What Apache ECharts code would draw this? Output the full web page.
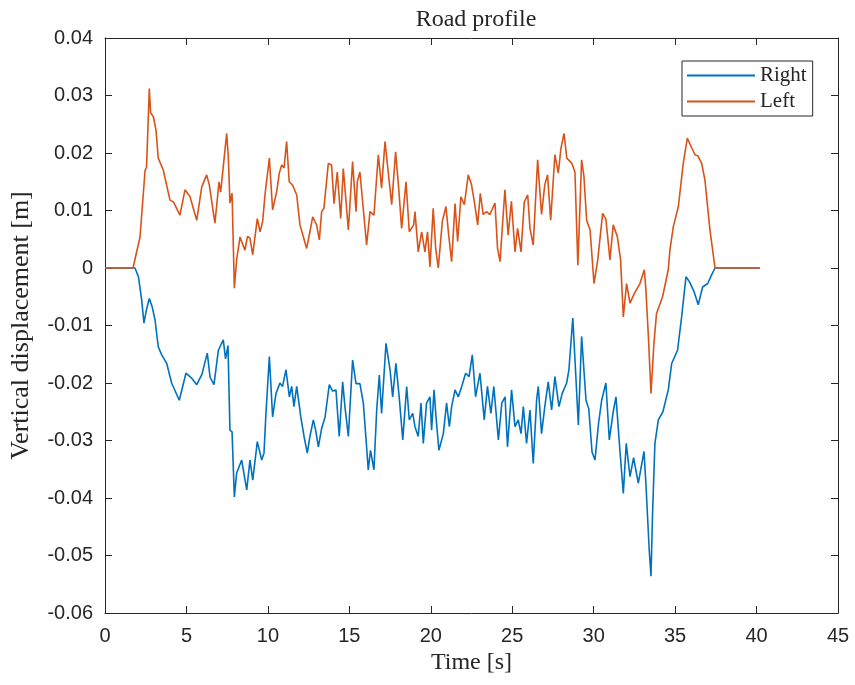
<!DOCTYPE html>
<html>
<head>
    <meta charset="utf-8">
    <title>Road profile</title>
    <script src="https://cdn.jsdelivr.net/npm/echarts@6/dist/echarts.min.js"></script>
    <style>
        html, body { margin: 0; padding: 0; background: #fff; }
    </style>
</head>
<body>
    <div id="main" style="width: 855px;height:685px;"></div>
    <script type="text/javascript">
        // [time (s), vertical displacement (m)]
        var rightPoints = [
            [0, 0], [1.84, 0], [2.05, -0.0015], [2.25, -0.0055], [2.39, -0.0096], [2.55, -0.0072], [2.72, -0.0053], [2.9, -0.0068],
            [3.07, -0.009], [3.27, -0.0137], [3.48, -0.0151], [3.79, -0.0166], [4.09, -0.02], [4.56, -0.023], [4.97, -0.0183],
            [5.3, -0.0191], [5.63, -0.0203], [5.95, -0.0185], [6.28, -0.0148], [6.45, -0.019], [6.69, -0.0203], [6.96, -0.0143],
            [7.26, -0.0125], [7.4, -0.0158], [7.55, -0.0135], [7.67, -0.0282], [7.8, -0.0285], [7.94, -0.0398], [8.08, -0.0357],
            [8.39, -0.0334], [8.7, -0.0386], [8.9, -0.0334], [9.07, -0.0369], [9.35, -0.0302], [9.62, -0.0334], [9.76, -0.0322],
            [9.88, -0.0253], [10.09, -0.0154], [10.29, -0.0259], [10.5, -0.0218], [10.74, -0.02], [10.9, -0.0206], [11.11, -0.0177],
            [11.32, -0.0224], [11.46, -0.0206], [11.6, -0.0241], [11.77, -0.0206], [12.02, -0.0259], [12.22, -0.0293], [12.42, -0.0322],
            [12.58, -0.0293], [12.79, -0.0264], [12.93, -0.0282], [13.1, -0.0311], [13.3, -0.0279], [13.51, -0.0259], [13.77, -0.0203],
            [13.97, -0.0214], [14.18, -0.0212], [14.38, -0.0293], [14.59, -0.0198], [14.73, -0.0241], [14.94, -0.0293], [15.2, -0.016],
            [15.41, -0.0201], [15.65, -0.0201], [15.86, -0.0235], [16.06, -0.0311], [16.16, -0.0351], [16.3, -0.0317], [16.51, -0.0351],
            [16.68, -0.0247], [16.84, -0.0186], [16.98, -0.0253], [17.25, -0.0131], [17.5, -0.0177], [17.66, -0.0224], [17.86, -0.0166],
            [18.06, -0.0224], [18.28, -0.0299], [18.52, -0.0206], [18.68, -0.0264], [18.89, -0.0253], [19.03, -0.0276], [19.23, -0.0293],
            [19.4, -0.0235], [19.54, -0.0305], [19.74, -0.0235], [19.95, -0.0224], [20.05, -0.0282], [20.2, -0.0212], [20.32, -0.0259],
            [20.5, -0.0317], [20.77, -0.0288], [20.97, -0.0235], [21.14, -0.0276], [21.28, -0.0241], [21.49, -0.0212], [21.69, -0.0224],
            [21.9, -0.0206], [22.14, -0.0183], [22.35, -0.0189], [22.55, -0.0151], [22.75, -0.0224], [23.02, -0.0183], [23.28, -0.0264],
            [23.48, -0.0206], [23.69, -0.0253], [23.87, -0.0206], [24.15, -0.0299], [24.36, -0.0235], [24.56, -0.0224], [24.71, -0.0311],
            [24.96, -0.0212], [25.17, -0.0276], [25.37, -0.0264], [25.54, -0.0288], [25.68, -0.0241], [25.88, -0.0305], [26.09, -0.0247],
            [26.29, -0.034], [26.5, -0.0229], [26.6, -0.0206], [26.8, -0.0288], [27.0, -0.0241], [27.21, -0.0198], [27.42, -0.0247],
            [27.62, -0.0189], [27.87, -0.0241], [28.07, -0.0218], [28.34, -0.02], [28.48, -0.0177], [28.72, -0.0087], [29.06, -0.0273],
            [29.26, -0.0119], [29.53, -0.023], [29.7, -0.0245], [29.9, -0.032], [30.08, -0.0334], [30.3, -0.027], [30.49, -0.023],
            [30.75, -0.02], [30.96, -0.0299], [31.2, -0.025], [31.37, -0.0224], [31.61, -0.0317], [31.82, -0.0392], [32.0, -0.0305],
            [32.23, -0.0363], [32.45, -0.033], [32.74, -0.0374], [33.09, -0.0319], [33.2, -0.0371], [33.41, -0.049], [33.52, -0.0536],
            [33.61, -0.0432], [33.76, -0.0305], [33.97, -0.0264], [34.25, -0.025], [34.58, -0.0212], [34.79, -0.0166], [35.15, -0.0143],
            [35.4, -0.0085], [35.67, -0.0015], [35.9, -0.0025], [36.16, -0.0041], [36.42, -0.0064], [36.69, -0.0033], [37.0, -0.0027],
            [37.24, -0.0012], [37.45, 0], [40.2, 0]
        ];

        var leftPoints = [
            [0, 0], [1.72, 0], [2.15, 0.0054], [2.46, 0.017], [2.55, 0.0175], [2.72, 0.0312], [2.8, 0.027], [2.97, 0.0263],
            [3.13, 0.024], [3.27, 0.0191], [3.58, 0.017], [3.99, 0.0118], [4.2, 0.0115], [4.6, 0.0092], [4.91, 0.0136], [5.22, 0.0124],
            [5.63, 0.0083], [5.94, 0.0141], [6.24, 0.0162], [6.4, 0.0145], [6.75, 0.0078], [7.0, 0.015], [7.1, 0.0132], [7.47, 0.0234],
            [7.57, 0.0194], [7.67, 0.0113], [7.8, 0.013], [7.94, -0.0035], [8.08, 0.0014], [8.29, 0.0054], [8.59, 0.0031], [8.75, 0.0055],
            [8.9, 0.0052], [9.07, 0.0023], [9.35, 0.0086], [9.52, 0.0063], [9.68, 0.0081], [9.82, 0.0127], [10.09, 0.0191], [10.29, 0.0101],
            [10.54, 0.0133], [10.7, 0.0165], [10.85, 0.0179], [10.99, 0.0174], [11.15, 0.022], [11.31, 0.015], [11.52, 0.0144], [11.77, 0.0127],
            [11.97, 0.0075], [12.38, 0.0034], [12.58, 0.0063], [12.75, 0.0089], [12.99, 0.0075], [13.16, 0.0049], [13.3, 0.0098], [13.44, 0.0104],
            [13.71, 0.0182], [13.91, 0.0179], [14.06, 0.0112], [14.26, 0.0167], [14.47, 0.0086], [14.63, 0.0173], [14.94, 0.0066], [15.2, 0.0185],
            [15.41, 0.0098], [15.49, 0.015], [15.65, 0.0167], [15.82, 0.0114], [16.06, 0.004], [16.27, 0.0098], [16.51, 0.0092], [16.78, 0.0197],
            [16.98, 0.0139], [17.19, 0.022], [17.6, 0.011], [17.84, 0.0202], [18.03, 0.0139], [18.21, 0.0069], [18.48, 0.015], [18.68, 0.0063],
            [18.95, 0.0075], [19.03, 0.0098], [19.23, 0.0028], [19.44, 0.0063], [19.64, 0.0028], [19.8, 0.0063], [19.95, 0.0002], [20.15, 0.0104],
            [20.3, 0.0034], [20.46, 0.0], [20.71, 0.0081], [20.93, 0.0107], [21.1, 0.0057], [21.28, 0.0011], [21.49, 0.0112], [21.65, 0.0046],
            [21.85, 0.0124], [22.06, 0.011], [22.3, 0.0162], [22.5, 0.0145], [22.67, 0.0116], [22.88, 0.0075], [23.04, 0.013], [23.22, 0.0093],
            [23.42, 0.0098], [23.63, 0.0093], [23.94, 0.0113], [24.1, 0.0034], [24.25, 0.0011], [24.55, 0.0136], [24.75, 0.0057], [24.95, 0.0116],
            [25.17, 0.0028], [25.33, 0.0069], [25.54, 0.0028], [25.74, 0.0115], [25.95, 0.0127], [26.09, 0.0069], [26.29, 0.004], [26.56, 0.0188],
            [26.8, 0.0093], [27.0, 0.0145], [27.17, 0.0162], [27.36, 0.0083], [27.62, 0.0197], [27.83, 0.0165], [27.99, 0.0208], [28.18, 0.0234],
            [28.35, 0.0191], [28.66, 0.0182], [28.85, 0.0167], [29.03, 0.0005], [29.26, 0.0188], [29.4, 0.016], [29.57, 0.0083], [29.78, 0.0066],
            [30.02, -0.0027], [30.25, 0.0014], [30.55, 0.0095], [30.75, 0.0085], [31.0, 0.0014], [31.2, 0.0075], [31.45, 0.0055], [31.65, 0.0015],
            [31.82, -0.0085], [32.02, -0.0027], [32.23, -0.0061], [32.5, -0.0044], [32.84, -0.0027], [33.11, -0.0003], [33.2, -0.0035],
            [33.35, -0.0114], [33.52, -0.0218], [33.7, -0.0131], [33.86, -0.0079], [34.23, -0.005], [34.58, -0.0003], [34.68, 0.0031],
            [34.89, 0.0072], [35.2, 0.0107], [35.5, 0.0182], [35.75, 0.0226], [36.0, 0.021], [36.22, 0.0197], [36.4, 0.0195], [36.63, 0.0182],
            [36.83, 0.0153], [37.14, 0.0066], [37.45, 0], [40.2, 0]
        ];

        var seriesNames = ['Right', 'Left'];
        var xTicks = [0, 5, 10, 15, 20, 25, 30, 35, 40, 45];
        var yTicks = [-0.06, -0.05, -0.04, -0.03, -0.02, -0.01, 0, 0.01, 0.02, 0.03, 0.04];

        var axisColor = '#262626';
        var serif = 'Liberation Serif';
        var sans = 'Liberation Sans';

        function xAxisCfg(pos, showLabel) {
            return {
                type: 'value',
                position: pos,
                min: xTicks[0],
                max: xTicks[xTicks.length - 1],
                interval: 5,
                axisLine: { show: true, onZero: false, lineStyle: { color: axisColor, width: 1 } },
                axisTick: { show: true, inside: true, length: 7, lineStyle: { color: axisColor } },
                axisLabel: { show: showLabel, color: axisColor, fontFamily: sans, fontSize: 20, margin: 13 },
                splitLine: { show: false }
            };
        }

        function yAxisCfg(pos, showLabel) {
            return {
                type: 'value',
                position: pos,
                min: yTicks[0],
                max: yTicks[yTicks.length - 1],
                interval: 0.01,
                axisLine: { show: true, onZero: false, lineStyle: { color: axisColor, width: 1 } },
                axisTick: { show: true, inside: true, length: 7, lineStyle: { color: axisColor } },
                axisLabel: {
                    show: showLabel, color: axisColor, fontFamily: sans, fontSize: 20, margin: 12,
                    formatter: function (value) {
                        return String(parseFloat(value.toFixed(2)));
                    }
                },
                splitLine: { show: false }
            };
        }

        var xBottom = xAxisCfg('bottom', true);
        xBottom.name = 'Time [s]';
        xBottom.nameLocation = 'middle';
        xBottom.nameGap = 37;
        xBottom.nameTextStyle = { fontFamily: serif, fontSize: 24, color: axisColor };

        var yLeft = yAxisCfg('left', true);
        yLeft.name = 'Vertical displacement [m]';
        yLeft.nameLocation = 'middle';
        yLeft.nameGap = 71;
        yLeft.nameTextStyle = { fontFamily: serif, fontSize: 26, color: axisColor };

        var myChart = echarts.init(document.getElementById('main'));

        myChart.setOption({
            backgroundColor: '#ffffff',
            animation: false,
            title: {
                text: 'Road profile',
                left: 471,
                textAlign: 'center',
                top: 3,
                textStyle: { fontFamily: serif, fontSize: 24, fontWeight: 'normal', color: axisColor }
            },
            legend: {
                data: seriesNames,
                orient: 'vertical',
                left: 682,
                top: 61,
                itemWidth: 68,
                itemHeight: 2,
                itemGap: 5,
                padding: [4, 6, 4, 5],
                icon: 'rect',
                borderColor: '#262626',
                borderWidth: 1,
                backgroundColor: '#fff',
                textStyle: { fontFamily: serif, fontSize: 21, color: axisColor }
            },
            grid: {
                left: 105,
                right: 17,
                top: 38,
                bottom: 72,
                containLabel: false
            },
            xAxis: [xBottom, xAxisCfg('top', false)],
            yAxis: [yLeft, yAxisCfg('right', false)],
            series: [
                {
                    name: seriesNames[0],
                    type: 'line',
                    showSymbol: false,
                    color: '#0072BD',
                    lineStyle: { width: 1.6, color: '#0072BD' },
                    data: rightPoints
                },
                {
                    name: seriesNames[1],
                    type: 'line',
                    showSymbol: false,
                    color: '#D95319',
                    lineStyle: { width: 1.6, color: '#D95319' },
                    data: leftPoints
                }
            ]
        });
    </script>
</body>
</html>
